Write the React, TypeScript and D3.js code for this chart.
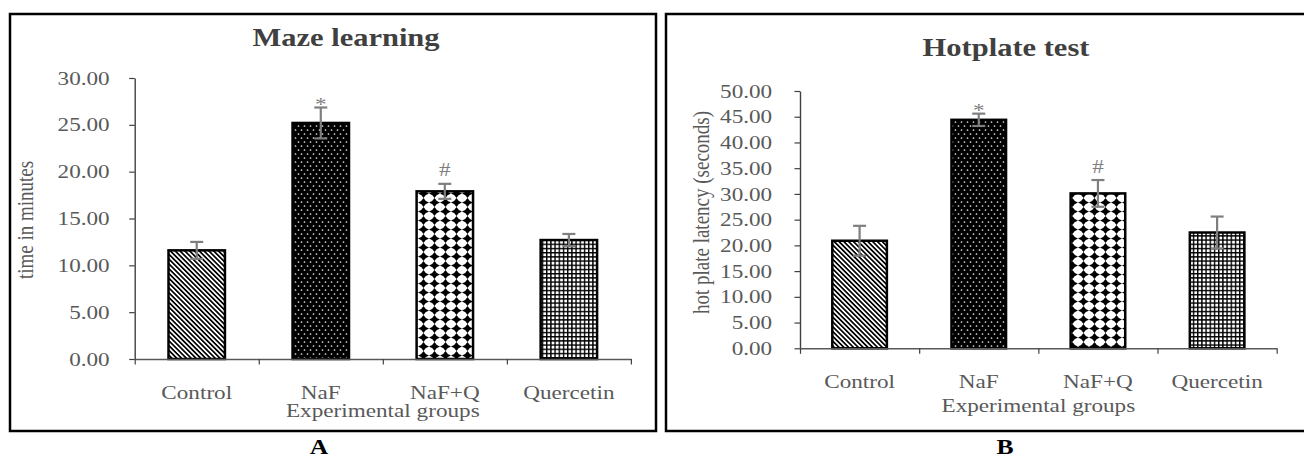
import React, { useEffect, useRef } from 'react';
import * as d3 from 'd3';

const groups = ['Control', 'NaF', 'NaF+Q', 'Quercetin'];
const patterns = ['pat-diag', 'pat-dots', 'pat-diamond', 'pat-grid'];

const mazeMeans = [11.6, 25.2, 17.9, 12.7];
const mazeErrors = [0.9, 1.65, 0.8, 0.65];
const mazeMarks = ['', '*', '#', ''];
const mazeTicks = [0, 5, 10, 15, 20, 25, 30];

const hotMeans = [20.9, 44.4, 30.1, 22.5];
const hotErrors = [2.9, 1.2, 2.6, 3.1];
const hotMarks = ['', '*', '#', ''];
const hotTicks = [0, 5, 10, 15, 20, 25, 30, 35, 40, 45, 50];

const FONT = '"Liberation Serif", "Times New Roman", serif';
const SX = 1.22; // the source figure is stretched sideways
const textColor = '#595959';

type Panel = {
  title: string;
  yLabel: string;
  means: number[];
  errors: number[];
  marks: string[];
  ticks: number[];
  box: [number, number, number, number];
  x0: number;
  x1: number;
  y0: number;
  y1: number;
  pad: number;
  titleX: number;
  titleY: number;
  yLabelX: number;
  yLabelY: number;
  tickGap: number;
  catY: number;
  xTitleY: number;
  letter: string;
  letterX: number;
};

const panels: Panel[] = [
  {
    title: 'Maze learning',
    yLabel: 'time in minutes',
    means: mazeMeans,
    errors: mazeErrors,
    marks: mazeMarks,
    ticks: mazeTicks,
    box: [10, 14, 656, 431],
    x0: 134.7,
    x1: 630.9,
    y0: 359,
    y1: 78,
    pad: 0.545,
    titleX: 346,
    titleY: 45.5,
    yLabelX: 33,
    yLabelY: 220,
    tickGap: 25,
    catY: 399,
    xTitleY: 417,
    letter: 'A',
    letterX: 319,
  },
  {
    title: 'Hotplate test',
    yLabel: 'hot plate latency (seconds)',
    means: hotMeans,
    errors: hotErrors,
    marks: hotMarks,
    ticks: hotTicks,
    box: [666, 14, 1320, 431],
    x0: 800,
    x1: 1276.7,
    y0: 348.3,
    y1: 91,
    pad: 0.542,
    titleX: 1006,
    titleY: 56,
    yLabelX: 708.5,
    yLabelY: 212.5,
    tickGap: 27.8,
    catY: 388.3,
    xTitleY: 412,
    letter: 'B',
    letterX: 1005,
  },
];

function putText(
  g: d3.Selection<SVGGElement, unknown, null, undefined>,
  x: number,
  y: number,
  str: string,
  size: number,
  opts: { bold?: boolean; fill?: string; rotate?: boolean } = {},
) {
  const rot = opts.rotate ? ' rotate(-90)' : '';
  g.append('text')
    .attr('transform', `translate(${x},${y}) scale(${SX},1)${rot}`)
    .attr('text-anchor', 'middle')
    .attr('font-family', FONT)
    .attr('font-size', size)
    .attr('font-weight', opts.bold ? 'bold' : 'normal')
    .attr('fill', opts.fill ?? textColor)
    .text(str);
}

function drawPanel(svg: d3.Selection<SVGSVGElement, unknown, null, undefined>, p: Panel) {
  const g = svg.append('g');
  const [bx0, by0, bx1, by1] = p.box;

  g.append('rect')
    .attr('x', bx0)
    .attr('y', by0)
    .attr('width', bx1 - bx0)
    .attr('height', by1 - by0)
    .attr('fill', 'white')
    .attr('stroke', 'black')
    .attr('stroke-width', 2.5);

  const x = d3
    .scaleBand<string>()
    .domain(groups)
    .range([p.x0, p.x1])
    .paddingInner(p.pad)
    .paddingOuter(p.pad / 2);
  const xEdge = d3.scaleLinear().domain([0, groups.length]).range([p.x0, p.x1]);
  const yMax = p.ticks[p.ticks.length - 1];
  const y = d3.scaleLinear().domain([0, yMax]).range([p.y0, p.y1]);

  // y axis
  const yAxis = g
    .append('g')
    .attr('transform', `translate(${p.x0},0)`)
    .call(
      d3
        .axisLeft(y)
        .tickValues(p.ticks)
        .tickSize(5.5)
        .tickSizeOuter(0)
        .tickPadding(p.tickGap - 5.5)
        .tickFormat(d3.format('.2f')),
    );
  yAxis.select('.domain').attr('stroke', '#404040').attr('stroke-width', 1.4);
  yAxis.selectAll('line').attr('stroke', '#404040').attr('stroke-width', 1.2);
  yAxis
    .selectAll<SVGTextElement, number>('text')
    .attr('font-family', FONT)
    .attr('font-size', 19)
    .attr('fill', textColor)
    .each(function () {
      const tx = this.getAttribute('x');
      d3.select(this).attr('x', 0).attr('transform', `translate(${tx},0) scale(${SX},1)`);
    });

  // bars
  g.selectAll('rect.bar')
    .data(p.means)
    .enter()
    .append('rect')
    .attr('class', 'bar')
    .attr('x', (_, i) => x(groups[i])!)
    .attr('y', d => y(d))
    .attr('width', x.bandwidth())
    .attr('height', d => p.y0 - y(d))
    .attr('fill', (_, i) => `url(#${patterns[i]})`)
    .attr('stroke', 'black')
    .attr('stroke-width', 2.5);

  // x axis with boundary ticks
  const xAxis = g
    .append('g')
    .attr('transform', `translate(0,${p.y0})`)
    .call(
      d3
        .axisBottom(xEdge)
        .tickValues(d3.range(groups.length + 1))
        .tickSize(5.5)
        .tickSizeOuter(0)
        .tickFormat(() => ''),
    );
  xAxis.select('.domain').attr('stroke', '#595959').attr('stroke-width', 1.4);
  xAxis.selectAll('line').attr('stroke', '#404040').attr('stroke-width', 1.2);

  // error bars
  const cap = 6.5;
  p.means.forEach((m, i) => {
    const cx = x(groups[i])! + x.bandwidth() / 2;
    const top = y(m + p.errors[i]);
    const bot = y(m - p.errors[i]);
    const eg = g.append('g').attr('stroke', '#7f7f7f').attr('stroke-width', 2.2);
    eg.append('line').attr('x1', cx).attr('x2', cx).attr('y1', top).attr('y2', bot);
    eg.append('line').attr('x1', cx - cap).attr('x2', cx + cap).attr('y1', top).attr('y2', top);
    eg.append('line').attr('x1', cx - cap).attr('x2', cx + cap).attr('y1', bot).attr('y2', bot);
    const mk = p.marks[i];
    if (mk === '*') putText(g, cx, top + 3, mk, 19, { fill: '#7f7f7f' });
    if (mk === '#') putText(g, cx, top - 7.5, mk, 19, { fill: '#7f7f7f' });
  });

  // category labels
  groups.forEach(name => {
    putText(g, x(name)! + x.bandwidth() / 2, p.catY, name, 19);
  });
  putText(g, (p.x0 + p.x1) / 2, p.xTitleY, 'Experimental groups', 19);

  putText(g, p.titleX, p.titleY, p.title, 25, { bold: true, fill: '#404040' });
  putText(g, p.yLabelX, p.yLabelY, p.yLabel, 19, { rotate: true });
  putText(g, p.letterX, 454, p.letter, 21, { bold: true, fill: 'black' });
}

export default function App() {
  const ref = useRef<SVGSVGElement>(null);

  useEffect(() => {
    if (!ref.current) return;
    const svg = d3.select(ref.current);
    svg.selectAll('*').remove();

    const defs = svg.append('defs');

    const diag = defs
      .append('pattern')
      .attr('id', 'pat-diag')
      .attr('patternUnits', 'userSpaceOnUse')
      .attr('width', 3.4)
      .attr('height', 3.4)
      .attr('patternTransform', 'rotate(-45)');
    diag.append('rect').attr('width', 3.4).attr('height', 3.4).attr('fill', 'white');
    diag.append('rect').attr('width', 1.7).attr('height', 3.4).attr('fill', 'black');

    const dots = defs
      .append('pattern')
      .attr('id', 'pat-dots')
      .attr('patternUnits', 'userSpaceOnUse')
      .attr('width', 6)
      .attr('height', 8);
    dots.append('rect').attr('width', 6).attr('height', 8).attr('fill', 'black');
    dots.append('circle').attr('cx', 1.5).attr('cy', 2).attr('r', 0.85).attr('fill', '#e6e6e6');
    dots.append('circle').attr('cx', 4.5).attr('cy', 6).attr('r', 0.85).attr('fill', '#e6e6e6');

    const dia = defs
      .append('pattern')
      .attr('id', 'pat-diamond')
      .attr('patternUnits', 'userSpaceOnUse')
      .attr('width', 11)
      .attr('height', 9);
    dia.append('rect').attr('width', 11).attr('height', 9).attr('fill', 'white');
    dia
      .append('path')
      .attr('d', 'M5.5,0 Q6.9,3.1 11,4.5 Q6.9,5.9 5.5,9 Q4.1,5.9 0,4.5 Q4.1,3.1 5.5,0 Z')
      .attr('fill', 'black');

    const grid = defs
      .append('pattern')
      .attr('id', 'pat-grid')
      .attr('patternUnits', 'userSpaceOnUse')
      .attr('width', 4.2)
      .attr('height', 4.2);
    grid.append('rect').attr('width', 4.2).attr('height', 4.2).attr('fill', 'white');
    grid.append('rect').attr('width', 1.4).attr('height', 4.2).attr('fill', 'black');
    grid.append('rect').attr('width', 4.2).attr('height', 1.4).attr('fill', 'black');

    svg.append('rect').attr('width', 1304).attr('height', 458).attr('fill', 'white');
    panels.forEach(p => drawPanel(svg, p));
  }, []);

  return (
    <svg
      ref={ref}
      width={1304}
      height={458}
      style={{ position: 'absolute', left: 0, top: 0, display: 'block' }}
    />
  );
}
